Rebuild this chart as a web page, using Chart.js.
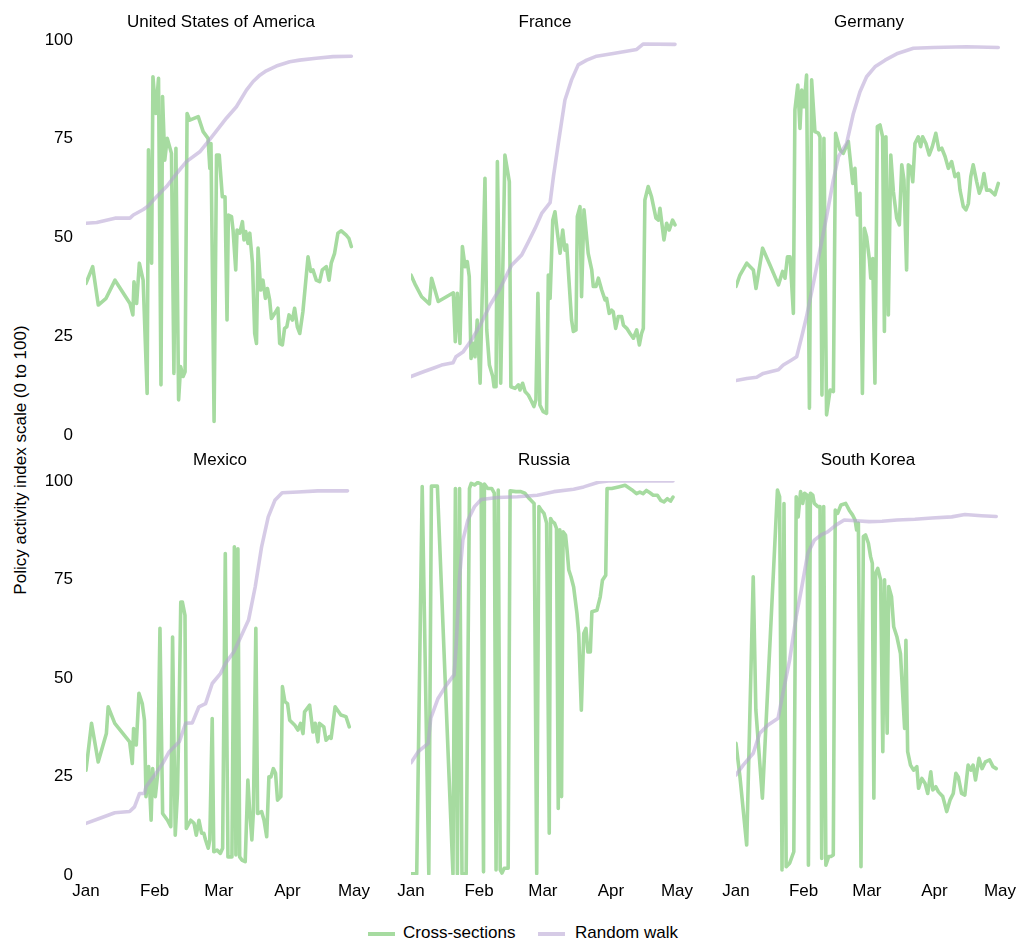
<!DOCTYPE html>
<html>
<head>
<meta charset="utf-8">
<script src="https://cdn.jsdelivr.net/npm/chart.js@4/dist/chart.umd.min.js"></script>
<style>
  html, body { margin: 0; padding: 0; background: #fff; overflow: hidden; }
  body { width: 1019px; height: 942px; position: relative; font-family: "Liberation Sans", Arial, Helvetica, sans-serif; }
  canvas { position: absolute; }
  #ytitle { position: absolute; left: 21px; top: 460px; transform: translate(-50%, -50%) rotate(-90deg); white-space: nowrap; font-size: 17px; color: #000; }
  #legend { position: absolute; top: 923px; left: 0; width: 1019px; height: 20px; font-size: 17px; color: #000; }
  .sw { position: absolute; top: 9px; height: 4px; width: 27px; }
  .lt { position: absolute; top: 0; line-height: 20px; white-space: nowrap; }
</style>
</head>
<body>
<div id="ytitle">Policy activity index scale (0 to 100)</div>
<div id="legend">
  <span class="sw" style="left:368px;background:#a6dba0"></span><span class="lt" style="left:403px">Cross-sections</span>
  <span class="sw" style="left:538px;background:rgba(180,160,210,0.55)"></span><span class="lt" style="left:575px">Random walk</span>
</div>
<script>
// ---- tick labels / categories ----
const monthLabels = ["Jan", "Feb", "Mar", "Apr", "May"];
const monthDays = [0, 31, 60, 91, 121];   // day offsets from Jan 1 (2020)
const yTicks = [0, 25, 50, 75, 100];
const countries = ["United States of America", "France", "Germany", "Mexico", "Russia", "South Korea"];
const seriesNames = ["Cross-sections", "Random walk"];

// ---- series values: [day since Jan 1, index value] ----
const usaCross = [[0,38.4],[3,42.6],[5.5,32.9],[9,34.6],[13,39.2],[19.7,33.3],[21,30.4],[21.5,38.8],[22.7,33.3],[23.9,43.5],[25.6,39.2],[27.4,10.5],[28,72.2],[29.4,43.5],[30,90.7],[31.3,81.4],[32.5,90.3],[33.6,12.7],[34.3,85.7],[35.3,69.6],[36.4,75.1],[38.3,71.3],[39.4,15.6],[40.3,72.6],[41.5,8.9],[42.4,17.3],[43.5,14.8],[44.4,16],[45.3,81.4],[46.5,79.7],[50.3,80.6],[52.5,76.8],[54.7,75.1],[55.5,67.5],[56,73.8],[57.4,3.4],[58.5,70.9],[59.7,70.9],[61.1,60.3],[62.3,60.3],[63.2,29.1],[63.8,55.7],[65.2,55.3],[65.9,51.9],[67.1,41.8],[67.7,51.9],[68.9,51.1],[70.1,54],[70.8,49.4],[71.6,51.5],[72.6,48.5],[73.4,51.1],[74.6,43.5],[75.6,25.7],[76.4,23.2],[77.1,47.3],[78.3,36.7],[79.3,39.2],[80.4,34.6],[81.3,37.1],[82.3,34.2],[83.1,29.5],[84.6,30.8],[86,32.1],[86.8,23.2],[88,22.8],[89,27],[90,27.4],[91,30.4],[92.5,29.1],[93.5,32.1],[94.7,27.4],[95.8,25.7],[97.2,31.2],[99.5,45.1],[100.7,41.4],[101.7,41.8],[103.2,39.2],[104.7,38.8],[105.9,41.8],[107.7,42.6],[108.9,39.2],[109.9,43.5],[111.4,46],[112.9,51.1],[114.4,51.7],[116.6,50.6],[117.8,49.8],[118.9,47.7]];
const usaWalk = [[0,53.6],[4.8,53.8],[13,54.9],[19.7,54.9],[21.2,55.7],[25.7,57.1],[27.9,58],[31.6,60.3],[36.1,62.9],[40.6,66.2],[45,69.2],[51,71.7],[54.7,74.3],[57.7,76.4],[62.9,80.2],[67.4,83.1],[71.9,87.3],[74.9,89.5],[77.9,91.1],[80.8,92.2],[85.3,93.4],[91.3,94.5],[95.7,94.9],[103.2,95.4],[110.7,95.8],[118.9,95.9]];

const franceCross = [[0,40.5],[2,38],[4.8,35],[8.3,33.2],[9.3,39.7],[12.3,33.8],[19.1,36],[20,23.6],[20.9,35.9],[22.1,23.2],[23.2,47.7],[24.4,42.6],[25.4,43.9],[26.3,40.1],[27.1,19.4],[28.1,23.2],[28.9,19.8],[29.9,29.1],[31.2,13.1],[33.4,65],[34.2,26.6],[35.4,17.7],[36.9,14.8],[37.5,12.2],[38.4,12.2],[39,69.2],[40.5,13.1],[42.4,70.9],[44.4,64.1],[45.1,12.2],[47,11.8],[48.5,12.7],[49.2,11.4],[50.4,13.1],[51.5,11],[53,10.1],[54.5,8.4],[55.5,7.2],[56.4,8.9],[57.3,35.9],[58.2,7.6],[59.7,5.9],[61.2,5.5],[62,40.5],[62.8,34.6],[64,54.4],[65,56.5],[66.1,51.1],[67.3,46],[68.5,51.9],[69.5,46.8],[70.3,48.1],[71.5,37.6],[72.5,29.1],[73.3,26.2],[74.5,26.6],[75.1,55.3],[76.3,57.8],[77,35],[78.1,57],[80,46],[81.6,41.8],[82.3,37.6],[83.5,37.6],[84.6,39.7],[86.1,36.7],[87.6,34.2],[88.3,34.6],[89.5,30.8],[90.6,31.6],[91.3,31.2],[92.4,27],[93.6,30],[95.1,30],[95.9,27.8],[97.4,27],[98.9,25.7],[100.4,24.5],[101.9,26.6],[103.1,22.8],[104.1,25.7],[104.9,27],[105.6,59.5],[107.1,62.9],[108.6,60.3],[110.6,54.9],[111.7,54.4],[112.4,57.4],[114.2,49.4],[115.4,53.6],[116.6,51.9],[118.1,54.4],[119.2,53.2]];
const franceWalk = [[0,14.8],[5.6,16],[10,16.9],[13.8,17.7],[19,18.3],[20.3,19.8],[23.6,21.1],[27.4,24.1],[31.2,27.8],[35.7,32.9],[40.2,37.1],[45.4,43],[50,45.6],[53,48.9],[56,52.3],[59,56.1],[62.8,58.8],[64.3,65.4],[66.5,73.8],[69.5,84.8],[72.5,89.9],[75.5,93.7],[79.3,94.9],[83.8,95.9],[91.3,96.6],[101.9,97.6],[104.9,99],[119.2,98.9]];

const germanyCross = [[0,37.6],[1.8,40.5],[4.9,43.5],[7.9,41.8],[9.1,37.1],[12.1,47.3],[15.5,43],[19.3,38],[21.2,41.4],[22.3,39.7],[23.4,45.1],[24.6,45.1],[26.1,30.8],[26.8,82.3],[28.1,88.6],[29.1,77.6],[29.9,87.3],[30.9,83.1],[32.1,91.1],[33.4,6.8],[34.4,89.9],[35.9,76.8],[37.5,76.4],[38.2,75.5],[39.1,10.1],[40,75.1],[41.2,5.1],[42.8,11.4],[44.3,11],[45.3,76.4],[47.3,72.2],[48.8,71.3],[51.1,74.3],[53.1,63.7],[54.1,67.5],[55.2,55.7],[56.4,61.2],[57.5,10.5],[58.4,52.3],[59.4,50.2],[60.7,44.3],[61.3,39.7],[62.2,44.7],[63.2,13.1],[64.3,78.1],[65.5,78.5],[66.7,75.5],[67.5,26.2],[68.2,75.5],[69.3,30.4],[70.4,70.9],[71.6,61.6],[73.1,54.9],[74.3,53.2],[75.4,68.4],[76.4,64.6],[77.6,41.8],[78.4,68.4],[79.5,67.9],[80.4,64.1],[81.4,73.8],[82.9,75.5],[84,73],[84.9,75.5],[86.4,73.8],[87.9,70.9],[89.3,73],[90.9,76.4],[92.3,72.2],[93.6,72.6],[95.1,70.5],[96.6,67.5],[98.1,69.2],[99.6,65.4],[101.1,66.2],[101.9,62],[103.4,57.8],[104.6,57],[105.7,58.6],[106.8,65.4],[107.9,68.4],[109.5,64.1],[110.7,61.2],[111.8,62.9],[112.8,66.2],[114,62],[115.5,62],[117,61.2],[117.8,60.8],[119.3,63.7]];
const germanyWalk = [[0,13.8],[4.9,14.3],[9.4,14.6],[12.4,15.6],[19.3,16.5],[21.5,17.7],[25.3,19],[27.6,19.8],[29.9,24.9],[32.1,30],[35.2,38.4],[38.2,46.8],[41.2,55.3],[44.3,64.6],[46.6,70.5],[50.3,73.8],[53.4,81.4],[56.4,86.9],[59.4,90.7],[63.2,93.2],[67.8,94.9],[73.1,96.5],[80.7,97.9],[89.8,98.1],[104.9,98.3],[119.3,98.1]];

const mexicoCross = [[0,26.6],[2.5,38.5],[5.5,28.7],[9.2,35.9],[10,42.7],[13,38.5],[19.7,33.8],[20.9,28.3],[21.5,37.2],[22.7,33],[23.9,46.1],[25.4,43.5],[26.4,39.3],[27.1,19.9],[28.3,27.5],[29.4,13.9],[30.1,27],[31.3,19.9],[32.4,25.8],[33.4,62.6],[34.6,15.6],[36.8,13.9],[38.3,12.3],[39.1,60.4],[40.3,10.1],[41.3,20.7],[42.1,43.5],[42.8,69.3],[43.5,69.3],[44.7,65.9],[45.3,11.8],[47.3,13.9],[48.8,13.1],[49.8,10.1],[51,13.9],[52.2,10.6],[53.2,10.6],[54,8.9],[55.2,6.8],[55.9,8.9],[57,39.7],[57.7,5.9],[59.2,6.3],[60.7,5.5],[61.7,6.8],[62.9,81.6],[64.1,4.6],[65.9,4.6],[67,83.3],[67.7,5.1],[68.6,82.8],[69.4,4.6],[70.4,3.8],[71.9,3.4],[73.1,24.1],[73.8,17.3],[74.9,8.9],[75.6,16.1],[76.7,62.6],[77.5,15.6],[79.3,16.1],[80.4,13.9],[81.6,9.7],[82.6,24.9],[83.5,24.9],[84.6,27],[85.6,25.8],[86.5,19],[88,19.9],[88.7,47.8],[89.8,44],[91,43.5],[92,39.3],[94.3,38],[95.7,36.8],[96.9,38.5],[98,35.9],[98.7,41.4],[101,43.1],[102.5,36.3],[103.5,38.5],[104.7,33.8],[105.4,38.5],[107.4,37.6],[108.4,34.2],[109.9,35.1],[110.7,34.7],[112.5,42.7],[115.1,40.6],[117.4,40.2],[118.9,37.6]];
const mexicoWalk = [[0,13.1],[6.3,14.4],[13,15.8],[19.7,16.1],[21.9,17.3],[24.2,20.7],[26.4,20.7],[27.1,22.4],[31.6,25.8],[34.6,28.3],[37.6,31.3],[42.1,33.8],[45,38.5],[48,38.6],[51,42.7],[54,43.5],[57,48.6],[60.7,51.1],[63,53.7],[66.7,56.6],[68.9,59.2],[73.4,64.7],[76.4,73.1],[79.3,83.3],[82.3,90.9],[85.3,95.1],[88.6,97],[95.7,97.2],[104.7,97.5],[118.1,97.5]];

const russiaCross = [[0,0.3],[2.6,0.3],[5.1,98.6],[8.1,0.3],[9.3,98.7],[12,98.7],[19.1,0.3],[20.2,98.1],[21.1,0.3],[22.1,98.1],[23.2,0.3],[25.1,0.3],[26.6,98.1],[27.4,99.4],[28.9,99],[30.4,99.6],[31.9,99.2],[33,0.8],[33.4,99.2],[34.9,98.1],[36.7,98.1],[37.9,96.9],[38.7,1.3],[39.7,97.7],[40.6,1.3],[41.4,0.5],[42.4,1.7],[44.2,1.7],[45.1,97.5],[47.7,97.3],[50,97.3],[51.8,96.9],[53.7,95.6],[56,94.3],[57.2,0.4],[58.2,93.5],[59.3,92.6],[60.5,91.8],[61.7,89.3],[62.9,10.6],[63.5,90.5],[64.3,89.7],[65.3,89.3],[66.2,88],[67,16.9],[67.7,87.6],[68.5,19.9],[69.2,87.1],[70.3,86.3],[71,82.5],[71.8,77.4],[72.8,75.7],[74,73.1],[75.5,66.4],[76.3,61.3],[77.5,41.8],[78.6,61.3],[79.6,62.6],[80.5,56.6],[81.6,56.6],[82.3,66.8],[84.6,67.2],[86.1,70.6],[87.1,74.8],[88.6,76.1],[89.2,98.1],[91.3,98.1],[94.4,98.5],[97.4,98.9],[100.4,97.8],[102.6,96.8],[104.1,97.2],[105.6,96.8],[107.1,97.6],[108.7,97],[110.2,96.4],[112.1,96.4],[113.6,95.1],[115.1,94.7],[116.6,95.5],[118.1,94.9],[119.2,95.9]];
const russiaWalk = [[0,28.5],[3.3,31.3],[7.8,33.4],[9,39.8],[12.3,44.8],[16.1,48.2],[19.6,50.8],[20.6,58.8],[22.1,75.7],[23.6,85],[25.9,90.1],[28.9,93.5],[31.9,95.3],[39.4,95.8],[48.5,96],[57.5,96.4],[65,97.3],[74,97.9],[78.6,98.5],[85.3,99.7],[89.8,100],[119.2,100]];

const koreaCross = [[0,33.4],[1.8,25],[4.9,7.6],[7.9,75.7],[9.1,41.9],[12.1,19.5],[19,97.7],[20,96],[21.1,1.3],[22,94.3],[23,2.1],[24.6,3],[26.5,5.9],[27.6,96],[28.5,90.9],[29.6,97.3],[30.6,94.3],[31.4,96.9],[32.6,96.4],[33.2,2.5],[34.1,96.9],[35.2,96.4],[35.9,94.3],[37.5,93.5],[38.5,93.5],[39.3,4.2],[40.2,93.5],[41.2,2.5],[42.5,4.7],[43.5,4.7],[44.6,5.1],[45.5,92.6],[46.6,91.8],[48.1,93.9],[50.3,94.3],[51.9,92.6],[53.4,91.4],[54.6,90.1],[55.3,87.6],[56.1,89.3],[57.3,2.1],[58.4,85.9],[59.4,86.3],[60.7,84.2],[61.7,80.8],[62.5,79.1],[63.2,19.5],[64,76.6],[65,77.8],[66.3,74.9],[67.3,31.3],[68.1,74.9],[69.3,36],[70,73.2],[71.3,70.6],[72.3,63],[73.8,60.4],[75.4,56.2],[76.4,46.1],[77.3,37.2],[77.9,59.6],[78.7,31.3],[80,27.9],[81.4,26.6],[82.9,27.5],[83.7,22],[85.2,24.5],[86.7,23.2],[87.9,20.7],[89.3,26.2],[90.2,21.6],[91.6,22.4],[92.8,21.1],[94.8,19.9],[96.6,16.1],[98.1,19],[99.6,20.7],[100.8,25.8],[101.9,24.9],[103.4,20.7],[104.9,20.3],[106.4,27.9],[107.7,26.6],[108.7,27.9],[109.8,24.1],[111.4,29.6],[112.8,27],[114.3,28.7],[116.3,29.2],[117.8,27.5],[119.3,27]];
const koreaWalk = [[0,25.4],[3.3,27.9],[7.9,30.9],[10.9,36],[14.7,38.1],[19.3,39.8],[21.5,46.1],[24.6,54.6],[27.6,65.6],[29.9,72.3],[32.9,81.6],[35.9,85],[39,86.3],[42,87.1],[45.8,88.8],[49.6,90.1],[54.9,89.9],[61,89.7],[67,89.8],[73.8,90.1],[82,90.3],[89.8,90.6],[98.9,90.9],[104.9,91.5],[112.5,91.2],[119.3,91]];

// ---- rendering ----
const FONT = "'Liberation Sans', Arial, Helvetica, sans-serif";
const GREEN = "#a6dba0";
const PURPLE = "rgba(180,160,210,0.55)";

const panels = [
  { name: countries[0], cross: usaCross,     walk: usaWalk,     col: 0, row: 0 },
  { name: countries[1], cross: franceCross,  walk: franceWalk,  col: 1, row: 0 },
  { name: countries[2], cross: germanyCross, walk: germanyWalk, col: 2, row: 0 },
  { name: countries[3], cross: mexicoCross,  walk: mexicoWalk,  col: 0, row: 1 },
  { name: countries[4], cross: russiaCross,  walk: russiaWalk,  col: 1, row: 1 },
  { name: countries[5], cross: koreaCross,   walk: koreaWalk,   col: 2, row: 1 }
];

// canvas frames (layout only)
const colFrames = [
  { left: 20,  width: 356, padL: 10, padR: 20 },
  { left: 391, width: 308, padL: 20, padR: 20 },
  { left: 716, width: 306, padL: 20, padR: 20 }
];
const rowFrames = [
  { top: 0,   height: 465, titleTop: 12.4, titleBottom: 7.2,  padB: 30 },
  { top: 445, height: 460, titleTop: 5.5,  titleBottom: 10.1, padB: 0 }
];

const toPts = arr => arr.map(p => ({ x: p[0], y: p[1] }));

panels.forEach(p => {
  const cf = colFrames[p.col], rf = rowFrames[p.row];
  const cv = document.createElement('canvas');
  cv.width = cf.width; cv.height = rf.height;
  cv.style.left = cf.left + 'px'; cv.style.top = rf.top + 'px';
  cv.style.width = cf.width + 'px'; cv.style.height = rf.height + 'px';
  document.body.appendChild(cv);
  const showY = p.col === 0, showX = p.row === 1;
  new Chart(cv, {
    type: 'line',
    data: {
      datasets: [
        { label: seriesNames[0], data: toPts(p.cross), borderColor: GREEN, borderWidth: 3.6, pointRadius: 0, tension: 0, order: 2, borderJoinStyle: 'round', borderCapStyle: 'round' },
        { label: seriesNames[1], data: toPts(p.walk),  borderColor: PURPLE, borderWidth: 3.6, pointRadius: 0, tension: 0, order: 1, borderJoinStyle: 'round', borderCapStyle: 'round' }
      ]
    },
    options: {
      responsive: false, animation: false, events: [],
      layout: { padding: { left: cf.padL, right: cf.padR, top: 0, bottom: rf.padB } },
      plugins: {
        legend: { display: false }, tooltip: { enabled: false },
        title: { display: true, text: p.name, fullSize: false, color: '#000',
                 font: { family: FONT, size: 17, weight: 'normal' },
                 padding: { top: rf.titleTop, bottom: rf.titleBottom } }
      },
      scales: {
        x: {
          type: 'linear', min: monthDays[0], max: monthDays[monthDays.length - 1],
          display: showX,
          grid: { display: false, drawTicks: false }, border: { display: false },
          ticks: { autoSkip: false, maxRotation: 0, padding: 6, color: '#000',
                   font: { family: FONT, size: 17 },
                   callback: (v, i) => monthLabels[i] },
          afterBuildTicks: s => { s.ticks = monthDays.map(v => ({ value: v })); },
          afterFit: s => { if (showX) s.height = 30; }
        },
        y: {
          type: 'linear', min: yTicks[0], max: yTicks[yTicks.length - 1],
          display: showY,
          grid: { display: false, drawTicks: false }, border: { display: false },
          ticks: { padding: 13, color: '#000', font: { family: FONT, size: 17 } },
          afterBuildTicks: s => { s.ticks = yTicks.map(v => ({ value: v })); },
          afterFit: s => { if (showY) s.width = 56; }
        }
      }
    }
  });
});
</script>
</body>
</html>
